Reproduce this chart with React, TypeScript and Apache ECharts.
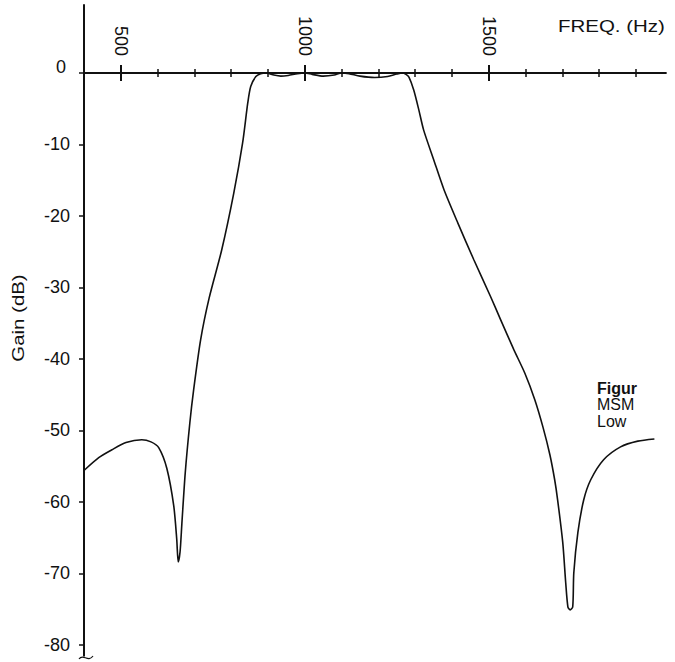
import React, { useEffect, useRef } from "react";
import * as echarts from "echarts";

// Frequency response of the band-pass filter
const freqHz = [
  400, 440, 476, 514, 557, 582, 603, 625, 644, 652, 656, 661, 666, 675, 687.5, 698,
  717, 740, 774, 807, 831, 845, 853, 867, 880, 895, 916, 935, 955, 980, 1000,
  1020, 1050, 1080, 1100, 1120, 1150, 1190, 1225, 1250, 1265, 1275, 1283, 1296,
  1310, 1323, 1350, 1378, 1416, 1459, 1505, 1532, 1568, 1598, 1625, 1647, 1666, 1679, 1687,
  1701, 1709, 1715, 1721, 1728, 1731, 1742, 1758, 1777, 1812, 1858, 1905, 1950,
];
const gainDb = [
  -55.6, -53.8, -52.7, -51.7, -51.3, -51.6, -52.4, -55.3, -60.6, -65.2, -68.4, -67.0, -63.0, -56.0, -49.0, -44.3,
  -37.3, -31.5, -24.8, -16.8, -9.8, -4.2, -1.9, -0.5, -0.1, 0, -0.3, -0.45, -0.35, -0.1, 0,
  -0.2, -0.45, -0.3, 0, -0.1, -0.45, -0.65, -0.5, -0.15, 0, -0.2, -0.6, -2.4,
  -5.2, -8.0, -12.1, -16.3, -21.0, -26.1, -31.3, -34.5, -38.7, -42.0, -45.7, -49.5, -53.4, -56.9, -59.7,
  -65.7, -71.3, -74.7, -75.1, -74.7, -69.9, -64.3, -59.7, -56.9, -54.1, -52.3, -51.5, -51.2,
];

const yTickValues = [0, -10, -20, -30, -40, -50, -60, -70, -80];
const xMajorTicks = [500, 1000, 1500];
const xMinorTicks = [500, 600, 700, 800, 900, 1000, 1100, 1200, 1300, 1400, 1500, 1600, 1700, 1800, 1900];
const captionLines = ["Figur", "MSM", "Low"];

const INK = "#111111";
const FONT = "Liberation Sans, Arial, sans-serif";
const X_MIN = 400;
const X_MAX = 1980;
const Y_MIN = -81.5;
const Y_TOP = 9.5;
const PX_PER_HZ = 0.368;
const PX_PER_DB = 7.15;

export default function App() {
  const ref = useRef<HTMLDivElement>(null);

  useEffect(() => {
    if (!ref.current) return;
    const chart = echarts.init(ref.current, null, { renderer: "svg" });

    const plotTop = 5 + Y_TOP * PX_PER_DB;
    const plotWidth = (X_MAX - X_MIN) * PX_PER_HZ;

    const topAxis = (extra: any) => ({
      type: "value",
      gridIndex: 0,
      position: "top",
      min: X_MIN,
      max: X_MAX,
      splitLine: { show: false },
      axisLine: { show: true, onZero: false, lineStyle: { color: INK, width: 2 } },
      axisLabel: { show: false },
      ...extra,
    });

    chart.setOption({
      animation: false,
      backgroundColor: "#ffffff",
      grid: [
        {
          left: 84,
          top: plotTop,
          width: plotWidth,
          height: -Y_MIN * PX_PER_DB,
          containLabel: false,
          outerBoundsMode: "none",
        },
        {
          left: 84,
          top: 5,
          width: plotWidth,
          height: Y_TOP * PX_PER_DB,
          containLabel: false,
          outerBoundsMode: "none",
        },
      ],
      xAxis: [
        topAxis({
          axisTick: { show: true, customValues: xMinorTicks, length: 4, lineStyle: { color: INK, width: 1.5 } },
          axisLabel: {
            show: true,
            customValues: xMajorTicks,
            rotate: 90,
            margin: 17,
            fontSize: 18,
            fontFamily: FONT,
            color: INK,
            formatter: (v: number) => String(v),
          },
        }),
        topAxis({
          axisTick: { show: true, inside: true, customValues: xMinorTicks, length: 4, lineStyle: { color: INK, width: 1.5 } },
        }),
        topAxis({
          axisTick: { show: true, customValues: xMajorTicks, length: 8, lineStyle: { color: INK, width: 2 } },
        }),
        topAxis({
          axisTick: { show: true, inside: true, customValues: xMajorTicks, length: 8, lineStyle: { color: INK, width: 2 } },
        }),
        {
          type: "value",
          gridIndex: 1,
          min: X_MIN,
          max: X_MAX,
          show: false,
        },
      ],
      yAxis: [
        {
          type: "value",
          gridIndex: 0,
          min: Y_MIN,
          max: 0,
          splitLine: { show: false },
          axisLine: { show: true, onZero: false, lineStyle: { color: INK, width: 2 } },
          axisTick: { show: true, customValues: yTickValues, length: 5, lineStyle: { color: INK, width: 1.5 } },
          axisLabel: {
            customValues: yTickValues,
            margin: 14,
            fontSize: 18,
            fontFamily: FONT,
            color: INK,
            formatter: (v: number) => (v === 0 ? "{z|0}" : String(v)),
            rich: {
              z: { fontSize: 18, fontFamily: FONT, color: INK, padding: [0, 4, 12, 0] },
            },
          },
        },
        {
          type: "value",
          gridIndex: 1,
          min: 0,
          max: Y_TOP,
          splitLine: { show: false },
          axisLine: { show: true, onZero: false, lineStyle: { color: INK, width: 2 } },
          axisTick: { show: false },
          axisLabel: { show: false },
        },
      ],
      series: [
        {
          type: "line",
          xAxisIndex: 0,
          yAxisIndex: 0,
          data: freqHz.map((f, i) => [f, gainDb[i]]),
          showSymbol: false,
          smooth: 0.25,
          clip: false,
          lineStyle: { color: INK, width: 1.6 },
        },
      ],
      graphic: [
        {
          type: "text",
          x: 558,
          y: 26,
          scaleX: 1.28,
          style: {
            text: "FREQ. (Hz)",
            fontSize: 16,
            fontFamily: FONT,
            fill: INK,
            verticalAlign: "middle",
          },
        },
        {
          type: "text",
          x: 18,
          y: 318,
          rotation: Math.PI / 2,
          scaleX: 1.2,
          style: {
            text: "Gain (dB)",
            fontSize: 17,
            fontFamily: FONT,
            fill: INK,
            align: "center",
            verticalAlign: "middle",
          },
        },
        ...captionLines.map((t, i) => ({
          type: "text",
          x: 597,
          y: 388 + i * 16.5,
          style: {
            text: t,
            fontSize: 16,
            fontWeight: i === 0 ? "bold" : "normal",
            fontFamily: FONT,
            fill: INK,
            verticalAlign: "middle",
          },
        })),
        {
          type: "bezierCurve",
          shape: { x1: 79, y1: 659, cpx1: 83, cpy1: 653, cpx2: 88, cpy2: 663, x2: 93, y2: 656 },
          style: { stroke: INK, lineWidth: 1.2, fill: "none" },
        },
      ],
    });

    return () => chart.dispose();
  }, []);

  return (
    <div
      ref={ref}
      style={{ position: "fixed", left: 0, top: 0, width: 675, height: 662, background: "#fff" }}
    />
  );
}
